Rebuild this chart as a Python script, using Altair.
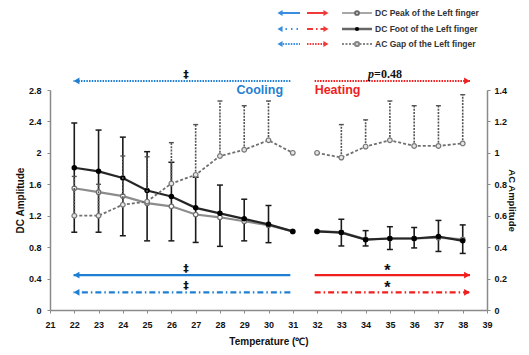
import altair as alt
import pandas as pd

# ---------------- data ----------------
temps = [22, 23, 24, 25, 26, 27, 28, 29, 30, 31, 32, 33, 34, 35, 36, 37, 38]
phase = ["cool"] * 10 + ["heat"] * 7
dc_peak = [1.55, 1.50, 1.45, 1.36, 1.32, 1.215, 1.18, 1.13, 1.08, 1.00,
           1.00, 0.99, 0.90, 0.91, 0.91, 0.92, 0.90]
dc_foot = [1.81, 1.765, 1.68, 1.52, 1.445, 1.30, 1.23, 1.16, 1.09, 1.00,
           1.00, 0.985, 0.895, 0.91, 0.91, 0.935, 0.88]
dc_err_up = [2.38, 2.29, 2.20, 2.015, 1.88, 1.69, 1.59, 1.41, 1.33, None,
             None, 1.155, 1.01, 1.06, 1.05, 1.14, 1.083]
dc_err_lo = [0.99, 0.99, 0.945, 0.88, 0.88, 0.86, 0.81, 0.88, 0.857, None,
             None, 0.815, 0.815, 0.77, 0.79, 0.745, 0.72]
ac_gap = [0.60, 0.60, 0.67, 0.69, 0.805, 0.86, 0.98, 1.02, 1.08, 1.00,
          1.00, 0.97, 1.04, 1.08, 1.044, 1.044, 1.06]
ac_err_up = [0.85, 0.80, 0.98, 0.975, 1.065, 1.18, 1.33, 1.30, 1.33, None,
             None, 1.18, 1.21, 1.33, 1.30, 1.30, 1.37]

x_ticks = list(range(21, 40))
yl_ticks = [0, 0.4, 0.8, 1.2, 1.6, 2.0, 2.4, 2.8]
yr_ticks = [0, 0.2, 0.4, 0.6, 0.8, 1.0, 1.2, 1.4]

# significance arrows (temperature range, level on DC axis)
arrow_from = [30.9, 31.9, 30.9, 31.9, 30.9, 31.9]
arrow_to = [21.97, 38.3, 21.97, 38.3, 21.97, 38.3]
arrow_y = [2.915, 2.915, 0.445, 0.445, 0.225, 0.225]
arrow_style = ["dot", "dot", "solid", "solid", "dashdot", "dashdot"]
arrow_color = ["blue", "red", "blue", "red", "blue", "red"]

mark_text_ = ["‡", "‡", "‡", "*", "*"]
mark_x = [26.6, 26.6, 26.6, 34.9, 34.9]
mark_y = [2.99, 0.52, 0.305, 0.52, 0.31]

legend_labels = ["DC Peak of the Left finger", "DC Foot of the Left finger",
                 "AC Gap of the Left finger"]

BLUE = "#1f7fd2"
RED = "#f01e1e"
COLORS = {"blue": BLUE, "red": RED}
DASH = {"dot": [1.5, 1.2], "solid": [1, 0], "dashdot": [6, 3, 1.5, 3]}
FONT = "Liberation Sans"

df = pd.DataFrame(dict(t=temps, phase=phase, peak=dc_peak, foot=dc_foot,
                       up=dc_err_up, lo=dc_err_lo, ac=ac_gap, acup=ac_err_up))
df_dcerr = df.dropna(subset=["up", "lo"])
df_acerr = df.dropna(subset=["acup"])

W, H = 437, 220
XS = alt.Scale(domain=[21, 39], nice=False, zero=False)
YL = alt.Scale(domain=[0, 2.8], nice=False)
YR = alt.Scale(domain=[0, 1.4], nice=False)

x_axis = alt.Axis(values=x_ticks, title="Temperature (℃)", tickSize=3,
                  labelPadding=7, titlePadding=7, labelFlush=False)
yl_axis = alt.Axis(values=yl_ticks, format="~g", title="DC Amplitude", orient="left",
                   tickSize=3, labelPadding=6, titlePadding=3)
yr_axis = alt.Axis(values=yr_ticks, format="~g", title="AC Amplitude", orient="right",
                   tickSize=3, labelPadding=4, titlePadding=0, titleFontSize=9.5)


def X(field):
    return alt.X(field, type="quantitative", scale=XS, axis=x_axis)


def YLf(field):
    return alt.Y(field, type="quantitative", scale=YL, axis=yl_axis)


def YRf(field):
    return alt.Y(field, type="quantitative", scale=YR, axis=yr_axis)


base = alt.Chart(df)

# ---- DC group (left axis) ----
dc_layers = []
dc_layers.append(
    alt.Chart(df_dcerr).mark_rule(color="#1a1a1a", strokeWidth=1.6).encode(
        x=X("t"), y=YLf("lo"), y2="up")
)
for fld in ["up", "lo"]:
    dc_layers.append(
        alt.Chart(df_dcerr).mark_point(shape="stroke", size=36, color="#1a1a1a",
                                       strokeWidth=1.5, opacity=1).encode(
            x=X("t"), y=YLf(fld))
    )
dc_layers.append(
    base.mark_line(color="#8c8c8c", strokeWidth=2.2).encode(
        x=X("t"), y=YLf("peak"), detail="phase:N")
)
dc_layers.append(
    base.mark_point(shape="circle", filled=True, fill="white", stroke="#6e6e6e",
                    strokeWidth=1.2, size=20, opacity=1).encode(x=X("t"), y=YLf("peak"))
)
dc_layers.append(
    base.mark_line(color="#262626", strokeWidth=2.2).encode(
        x=X("t"), y=YLf("foot"), detail="phase:N")
)
dc_layers.append(
    base.mark_point(shape="circle", filled=True, color="#000000", size=30,
                    opacity=1).encode(x=X("t"), y=YLf("foot"))
)

# arrows
df_arrow = pd.DataFrame(dict(x0=arrow_from, x1=arrow_to, y=arrow_y,
                             style=arrow_style, col=arrow_color))
for sty in ["dot", "solid", "dashdot"]:
    for col in ["blue", "red"]:
        sub = df_arrow[(df_arrow["style"] == sty) & (df_arrow["col"] == col)]
        dc_layers.append(
            alt.Chart(sub).mark_rule(color=COLORS[col], strokeWidth=2.2 if sty != "dot" else 2,
                                     strokeDash=DASH[sty]).encode(
                x=X("x0"), x2="x1", y=YLf("y"))
        )
        dc_layers.append(
            alt.Chart(sub).mark_point(shape="triangle-left" if col == "blue" else "triangle-right",
                                      filled=True, color=COLORS[col], size=45, opacity=1,
                                      xOffset=3 if col == "blue" else -3).encode(
                x=X("x1"), y=YLf("y"))
        )

# significance marks
df_marks = pd.DataFrame(dict(x=mark_x, y=mark_y, txt=mark_text_))
dc_layers.append(
    alt.Chart(df_marks[df_marks["txt"] == "‡"]).mark_text(
        font="DejaVu Sans", fontSize=11, fontWeight="bold", color="#111").encode(
        x=X("x"), y=YLf("y"), text="txt:N")
)
dc_layers.append(
    alt.Chart(df_marks[df_marks["txt"] == "*"]).mark_text(
        font=FONT, fontSize=16, fontWeight="bold", color="#111", dy=2).encode(
        x=X("x"), y=YLf("y"), text="txt:N")
)

# Cooling / Heating / p=0.48
df_lbl = pd.DataFrame(dict(x=[30.6, 31.9], y=[2.80, 2.80], txt=["Cooling", "Heating"]))
dc_layers.append(
    alt.Chart(df_lbl.iloc[[0]]).mark_text(font=FONT, fontSize=12.5, fontWeight="bold",
                                          color=BLUE, align="right").encode(
        x=X("x"), y=YLf("y"), text="txt:N")
)
dc_layers.append(
    alt.Chart(df_lbl.iloc[[1]]).mark_text(font=FONT, fontSize=12.5, fontWeight="bold",
                                          color=RED, align="left").encode(
        x=X("x"), y=YLf("y"), text="txt:N")
)
df_p = pd.DataFrame(dict(x=[34.35, 34.35], y=[3.01, 3.01], txt=["p", "=0.48"]))
dc_layers.append(
    alt.Chart(df_p.iloc[[0]]).mark_text(font="Liberation Serif", fontSize=12, fontWeight="bold",
                                        fontStyle="italic", color="#111", align="right").encode(
        x=X("x"), y=YLf("y"), text="txt:N")
)
dc_layers.append(
    alt.Chart(df_p.iloc[[1]]).mark_text(font="Liberation Serif", fontSize=12, fontWeight="bold",
                                        color="#111", align="left").encode(
        x=X("x"), y=YLf("y"), text="txt:N")
)

# legend (decorative, placed in pixel space above plot)
leg_y = [-77, -61, -46]
leg_dash = ["solid", "dashdot", "dot"]
one = pd.DataFrame({"k": [0]})
for i, lab in enumerate(legend_labels):
    yy = leg_y[i]
    dsh = DASH[leg_dash[i]] if i != 1 else [1.5, 4]
    dc_layers.append(alt.Chart(one).mark_rule(color="#3a8ee0", strokeWidth=2, strokeDash=dsh).encode(
        x=alt.value(230), x2=alt.value(250), y=alt.value(yy)))
    dc_layers.append(alt.Chart(one).mark_point(shape="triangle-left", filled=True, color="#3a8ee0",
                                               size=35, opacity=1).encode(
        x=alt.value(230), y=alt.value(yy)))
    dc_layers.append(alt.Chart(one).mark_rule(color="#f03a3a", strokeWidth=2,
                                              strokeDash=DASH[leg_dash[i]]).encode(
        x=alt.value(257), x2=alt.value(276), y=alt.value(yy)))
    dc_layers.append(alt.Chart(one).mark_point(shape="triangle-right", filled=True, color="#f03a3a",
                                               size=35, opacity=1).encode(
        x=alt.value(276), y=alt.value(yy)))
    if i == 0:
        dc_layers.append(alt.Chart(one).mark_rule(color="#777", strokeWidth=1.3).encode(
            x=alt.value(292), x2=alt.value(322), y=alt.value(yy)))
        dc_layers.append(alt.Chart(one).mark_point(shape="circle", filled=True, fill="white",
                                                   stroke="#666", size=14, opacity=1).encode(
            x=alt.value(307), y=alt.value(yy)))
    elif i == 1:
        dc_layers.append(alt.Chart(one).mark_rule(color="#666", strokeWidth=2.5).encode(
            x=alt.value(292), x2=alt.value(322), y=alt.value(yy)))
        dc_layers.append(alt.Chart(one).mark_point(shape="circle", filled=True, color="#000",
                                                   size=18, opacity=1).encode(
            x=alt.value(307), y=alt.value(yy)))
    else:
        dc_layers.append(alt.Chart(one).mark_rule(color="#888", strokeWidth=2.2,
                                                  strokeDash=[2, 1.5]).encode(
            x=alt.value(292), x2=alt.value(322), y=alt.value(yy)))
        dc_layers.append(alt.Chart(one).mark_point(shape="circle", filled=True, fill="#ddd",
                                                   stroke="#888", size=18, opacity=1).encode(
            x=alt.value(307), y=alt.value(yy)))
    dc_layers.append(alt.Chart(one).mark_text(font=FONT, fontSize=8.5, fontWeight="bold",
                                              color="#333", align="left", baseline="middle",
                                              text=lab).encode(
        x=alt.value(325), y=alt.value(yy)))

dc_group = alt.layer(*dc_layers)

# ---- AC group (right axis) ----
ac_layers = [
    alt.Chart(df_acerr).mark_rule(color="#555", strokeWidth=1.6, strokeDash=[2, 1.2]).encode(
        x=X("t"), y=YRf("ac"), y2="acup"),
    alt.Chart(df_acerr).mark_point(shape="stroke", size=25, color="#555", strokeWidth=1.4,
                                   opacity=1).encode(
        x=X("t"), y=YRf("acup")),
    base.mark_line(color="#707070", strokeWidth=1.8, strokeDash=[3, 2]).encode(
        x=X("t"), y=YRf("ac"), detail="phase:N"),
    base.mark_point(shape="circle", filled=True, fill="#e6e6e6", stroke="#777",
                    strokeWidth=1.2, size=22, opacity=1).encode(
        x=X("t"), y=YRf("ac")),
]
ac_group = alt.layer(*ac_layers)

chart = alt.layer(dc_group, ac_group).resolve_scale(y="independent").properties(
    width=W, height=H,
    autosize=alt.AutoSizeParams(type="none"),
    padding={"left": 42, "top": 82, "right": 34, "bottom": 37},
).configure_view(stroke=None).configure_axis(
    grid=False,
    labelFont=FONT, labelFontWeight="bold", labelFontSize=9, labelColor="#111",
    titleFont=FONT, titleFontWeight="bold", titleFontSize=10, titleColor="#111",
    domainColor="#8a8a8a", tickColor="#8a8a8a", domainWidth=1.5,
)

chart.save("out.html", embed_options={"renderer": "svg", "actions": False})
